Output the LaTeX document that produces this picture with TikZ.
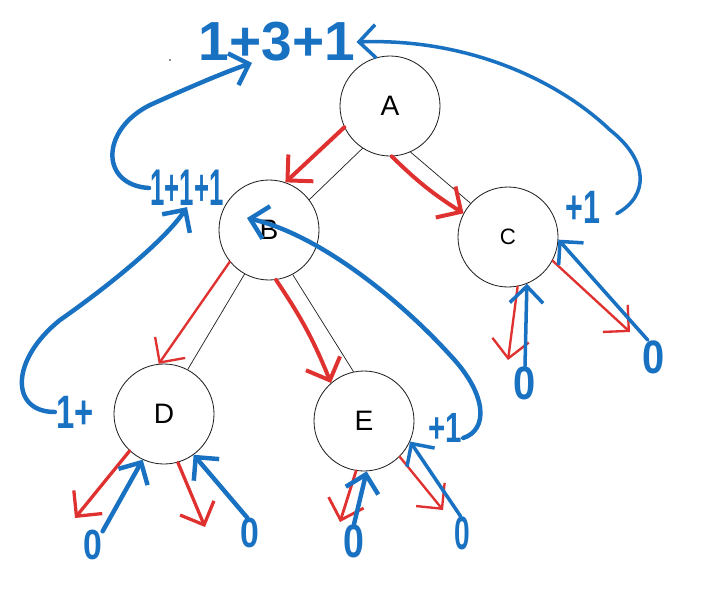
\documentclass[tikz,border=0pt]{standalone}
\usepackage{fontspec}
\usepackage{graphicx}
\setmainfont{Liberation Sans}
\usetikzlibrary{arrows.meta,calc}
\definecolor{exred}{HTML}{E03131}
\definecolor{exblue}{HTML}{1971C2}
\definecolor{exblack}{HTML}{1E1E1E}
\begin{document}
\begin{tikzpicture}[x=0.03cm,y=-0.03cm,
  tnode/.style={circle,draw=exblack,line width=0.7pt,minimum size=3cm,inner sep=0pt,font=\fontsize{24}{26}\selectfont},
  tedge/.style={draw=exblack,line width=0.6pt},
  redarr/.style={draw=exred,line width=2.6pt,line cap=round,line join=round,-{Straight Barb[length=5.5mm,width=11mm]}},
  bluearr/.style={draw=exblue,line width=3.8pt,line cap=round,line join=round,-{Straight Barb[length=5mm,width=10mm]}},
  blbl/.style={text=exblue,font=\bfseries\fontsize{40}{40}\selectfont,inner sep=1pt},
  zero/.style={text=exblue,font=\bfseries\fontsize{40}{40}\selectfont,inner sep=0pt}
]
\useasboundingbox (0,0) rectangle (712,589);
\fill[white] (0,0) rectangle (712,589);

% tree nodes
\node[tnode] (A) at (390,106) {A};
\node[tnode] (B) at (269,230) {B};
\node[tnode] (C) at (508,237) {\fontsize{19}{21}\selectfont C};
\node[tnode] (D) at (164,414) {D};
\node[tnode] (E) at (364,421) {E};

% blue labels
\node[blbl,font=\bfseries\fontsize{47}{47}\selectfont] (lblA) at (277,42) {1+3+1};
\node[blbl,font=\bfseries\fontsize{44}{44}\selectfont] (lblB) at (187,188) {\scalebox{0.5}[1]{1+1+1}};
\node[blbl] (lblC) at (583,207) {\scalebox{0.65}[1]{+1}};
\node[blbl] (lblD) at (75,412) {\scalebox{0.7}[1]{1+}};
\node[blbl,font=\bfseries\fontsize{36}{36}\selectfont] (lblE) at (445,428) {\scalebox{0.7}[1]{+1}};

% zeros
\node[zero,font=\bfseries\fontsize{36}{36}\selectfont] (z1) at (93,545) {\scalebox{0.8}[1]{0}};
\node[zero,font=\bfseries\fontsize{36}{36}\selectfont] (z2) at (250,533) {\scalebox{0.8}[1]{0}};
\node[zero] (z3) at (354,541) {\scalebox{0.8}[1]{0}};
\node[zero] (z4) at (462,533) {\scalebox{0.6}[1]{0}};
\node[zero] (z5) at (525,383) {\scalebox{0.85}[1]{0}};
\node[zero] (z6) at (654,357) {\scalebox{0.85}[1]{0}};

% free ends of red arrows
\coordinate (rc1) at (508,360);
\coordinate (rc2) at (630,332);
\coordinate (rd1) at (75,518);
\coordinate (rd2) at (205,527);
\coordinate (re1) at (340,522);
\coordinate (re2) at (443,510);

% black tree edges
\draw[tedge] (A.237) -- (B.37);
\draw[tedge] (A.-66) -- (C.138);
\draw[tedge] (B.-119) -- (D.62);
\draw[tedge] (B.-62) -- (E.102);

% red arrows
\draw[redarr,line width=3.4pt] (A.205) -- (B.71);
\draw[redarr,line width=3.4pt] (A.-88) to[bend right=6] (C.152);
\draw[redarr,line width=2pt] (B.219) -- (D.96);
\draw[redarr,line width=3.4pt] (B.-82) to[bend left=6] (E.131);
\draw[redarr,line width=2pt] (C.-79) -- (rc1);
\draw[redarr,line width=2pt] (C.-28) -- (rc2);
\draw[redarr,line width=2.8pt] (D.227) -- (rd1);
\draw[redarr,line width=2.8pt] (D.-74) -- (rd2);
\draw[redarr,line width=2.4pt] (E.261) -- (re1);
\draw[redarr,line width=2pt] (E.-45) -- (re2);

% blue return arrows
\draw[bluearr] (z1.55) -- (D.245);
\draw[bluearr] (z2.100) -- (D.-54);
\draw[bluearr] (z3.north) -- (E.-87);
\draw[bluearr,line width=3pt] (z4.95) -- (E.-24);
\draw[bluearr,line width=3pt] (z5.north) -- (C.-68);
\draw[bluearr,line width=3pt] (z6.110) -- (C.-3);

% blue sum curves
\draw[bluearr] (lblB.west) .. controls (100,185) and (100,130) .. (150,105)
   .. controls (190,87) and (225,72) .. ([xshift=-0.75cm]lblA.south);
\draw[bluearr,line width=3pt] ([xshift=0.45cm,yshift=-0.2cm]lblC.east) .. controls (650,195) and (648,160) .. (610,130)
   .. controls (560,82) and (470,38) .. (lblA.east);
\draw[bluearr] (lblD.west) .. controls (10,412) and (10,360) .. (60,320)
   .. controls (110,285) and (165,240) .. (lblB.south);
\draw[bluearr] ([yshift=-0.3cm]lblE.east) .. controls (488,430) and (488,395) .. (450,355)
   .. controls (400,300) and (320,235) .. ($(B)+(-22,-12)$);

% small speck
\fill[exblack] (170,60) circle (0.8);
\end{tikzpicture}
\end{document}
